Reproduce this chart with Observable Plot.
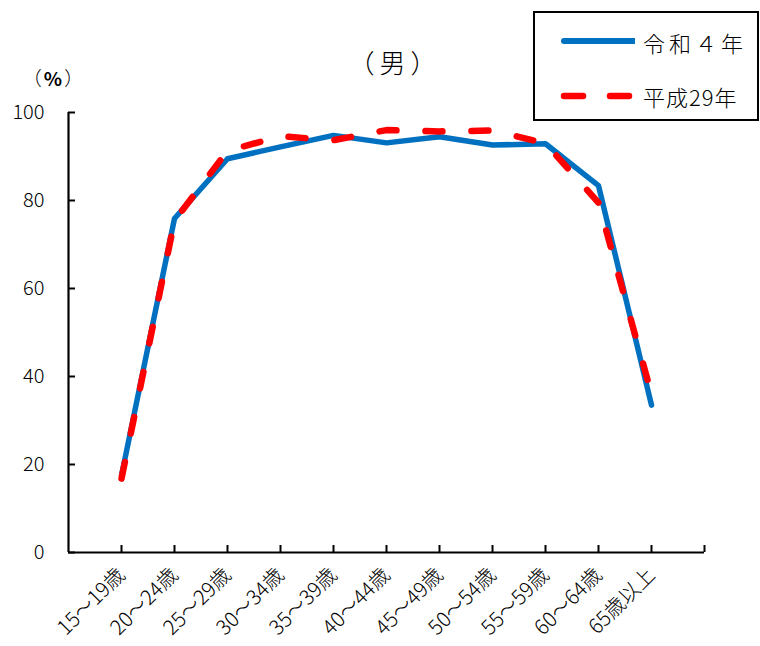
<!DOCTYPE html>
<html>
<head>
<meta charset="utf-8">
<script src="https://cdn.jsdelivr.net/npm/d3@7"></script>
<script src="https://cdn.jsdelivr.net/npm/@observablehq/plot@0.6"></script>
<style>
  html, body { margin: 0; padding: 0; background: #fff; }
  body { width: 760px; height: 646px; position: relative; overflow: hidden; font-family: "Noto Sans CJK JP", sans-serif; font-weight: 300; }
  #chart { position: absolute; left: 0; top: 0; }
  .title { position: absolute; left: 315px; top: 49px; width: 160px; text-align: center; font-size: 26px; color: #000; line-height: 1; letter-spacing: 5px; }
  .unit { position: absolute; left: 18px; top: 68px; width: 72px; text-align: center; font-size: 19px; line-height: 1; color: #000; letter-spacing: 2px; }
  .unit b { font-weight: 700; }
  .legend { position: absolute; left: 533px; top: 11px; width: 226px; height: 110px; box-sizing: border-box; border: 2px solid #000; background: #fff; }
  .legend .item { position: absolute; left: 0; height: 30px; width: 220px; }
  .legend svg { position: absolute; left: 0; top: 0; }
  .legend span { position: absolute; left: 108px; top: 1px; font-size: 22px; line-height: 28px; color: #000; white-space: nowrap; }
</style>
</head>
<body>
<div id="chart"></div>
<div class="title">（男）</div>
<div class="unit">（<b>%</b>）</div>
<div class="legend">
  <div class="item" style="top:14px">
    <svg width="100" height="30"><line x1="29" y1="14" x2="100" y2="14" stroke="#0070C0" stroke-width="6" stroke-linecap="round"/></svg>
    <span id="lab0" style="letter-spacing:4px"></span>
  </div>
  <div class="item" style="top:68px">
    <svg width="100" height="30"><line x1="29" y1="15" x2="100" y2="15" stroke="#FF0000" stroke-width="6.5" stroke-linecap="round" stroke-dasharray="19,27"/></svg>
    <span id="lab1" style="letter-spacing:1px"></span>
  </div>
</div>
<script>
const categories = ["15～19歳","20～24歳","25～29歳","30～34歳","35～39歳","40～44歳","45～49歳","50～54歳","55～59歳","60～64歳","65歳以上"];
const seriesNames = ["令和４年", "平成29年"];
const reiwa4 = [17.5, 75.9, 89.5, 92.2, 94.8, 93.1, 94.5, 92.6, 92.9, 83.4, 33.5];
const heisei29 = [16.8, 75.4, 91.3, 94.6, 93.7, 96.0, 95.7, 95.9, 93.0, 79.5, 36.0];
const yTicks = [0, 20, 40, 60, 80, 100];

document.getElementById("lab0").textContent = seriesNames[0];
document.getElementById("lab1").textContent = seriesNames[1];

const rows0 = categories.map((c, i) => ({i: i + 1, v: reiwa4[i]}));
const rows1 = categories.map((c, i) => ({i: i + 1, v: heisei29[i]}));
const xTicks = d3.range(1, categories.length + 2);

const chart = Plot.plot({
  width: 760,
  height: 646,
  marginLeft: 68,
  marginRight: 56,
  marginTop: 112,
  marginBottom: 94,
  style: {fontFamily: "'Noto Sans CJK JP', sans-serif", fontWeight: 300, color: "#000", background: "transparent"},
  x: {domain: [0, categories.length + 1]},
  y: {domain: [0, 100]},
  marks: [
    Plot.axisY({ticks: yTicks, tickSize: -7, tickPadding: 31, strokeWidth: 2, fontSize: 20, label: null}),
    Plot.axisX({ticks: xTicks, tickSize: -7, tickPadding: 26, strokeWidth: 2, fontSize: 20.5, label: null,
      tickRotate: -45, tickFormat: d => categories[d - 1] ?? ""}),
    Plot.ruleX([0], {strokeWidth: 2.2, stroke: "#000"}),
    Plot.ruleY([0], {strokeWidth: 2.2, stroke: "#000"}),
    Plot.line(rows0, {x: "i", y: "v", stroke: "#0070C0", strokeWidth: 5.5, strokeLinejoin: "round", strokeLinecap: "round"}),
    Plot.line(rows1, {x: "i", y: "v", stroke: "#FF0000", strokeWidth: 6.5, strokeLinejoin: "round", strokeLinecap: "round", strokeDasharray: "17,29"})
  ]
});
document.getElementById("chart").appendChild(chart);
</script>
</body>
</html>
